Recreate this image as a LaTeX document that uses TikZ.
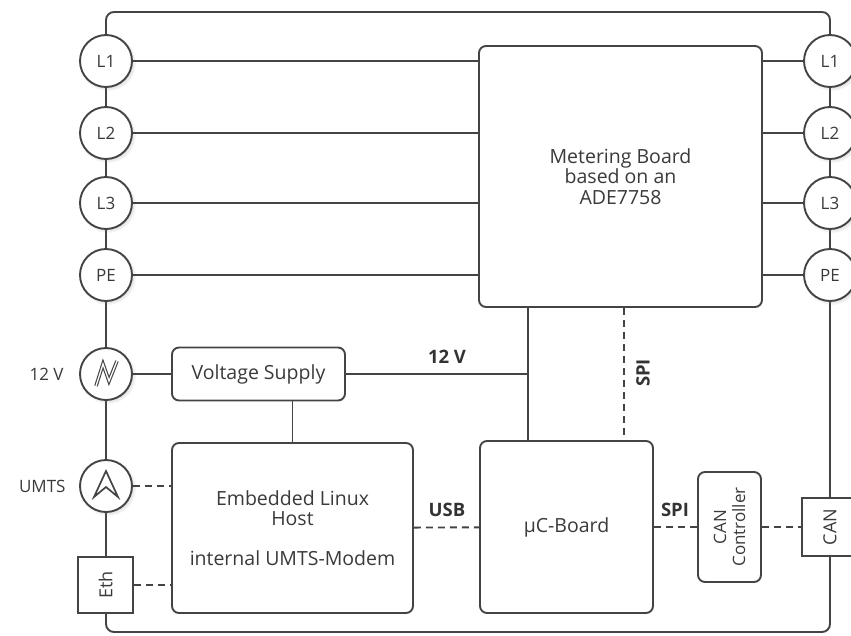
\documentclass[tikz,border=0pt]{standalone}
\usepackage{fontspec}
\setmainfont{Open Sans}
\usetikzlibrary{positioning,shadows}
\definecolor{ln}{HTML}{444444}
\definecolor{tx}{HTML}{3A3A3A}
\tikzset{
  wire/.style={draw=ln,line width=1.9pt},
  dwire/.style={wire,dash pattern=on 7pt off 5pt},
  port/.style={circle,draw=ln,line width=1.9pt,fill=white,minimum size=52pt,inner sep=0pt,
    text=tx,font=\fontsize{17}{19}\selectfont,
    circular drop shadow={opacity=0.22,shadow xshift=1.5pt,shadow yshift=-1.5pt}},
  blk/.style={draw=ln,line width=1.9pt,rounded corners=7pt,fill=white,align=center,
    text=tx,font=\fontsize{19.5}{20.5}\selectfont},
  sqbox/.style={draw=ln,line width=1.9pt,fill=white,align=center,text=tx,
    font=\fontsize{18}{20}\selectfont},
  tag/.style={text=tx,font=\fontsize{17}{19}\selectfont},
  btag/.style={text=black!80,font=\fontsize{18.5}{20}\selectfont\bfseries},
}
\begin{document}
\begin{tikzpicture}[x=1pt,y=-1pt]
\useasboundingbox (0,0) rectangle (851,635);
\draw[wire,rounded corners=8pt] (106,12) rectangle (830,632);
\node(ML)[blk,minimum width=283,minimum height=261]at(620.5,176.5){Metering Board\\based on an\\ ADE7758};
\node(L1)[port]at(106,61){L1};
\node(L2)[port]at(106,133){L2};
\node(L3)[port]at(106,203){L3};
\node(LPE)[port]at(106,275){PE};
\node(R1)[port]at(830,61){L1};
\node(R2)[port]at(830,133){L2};
\node(R3)[port]at(830,203){L3};
\node(RPE)[port]at(830,275){PE};
\foreach \n in {L1,L2,L3,LPE}{\draw[wire](\n)--(\n-|ML.west);}
\foreach \n in {R1,R2,R3,RPE}{\draw[wire](\n)--(\n-|ML.east);}
\node(V12)[port]at(106,374){};
\draw[ln,line width=3.6pt,line join=miter]([shift={(-10,12)}]V12.center)--([shift={(-3,-10)}]V12.center)--([shift={(3,7)}]V12.center)--([shift={(11,-13)}]V12.center);
\draw[white,line width=1.3pt,line join=miter]([shift={(-10,12)}]V12.center)--([shift={(-3,-10)}]V12.center)--([shift={(3,7)}]V12.center)--([shift={(11,-13)}]V12.center);
\node[tag,left=12pt of V12]{12 V};
\node(UM)[port]at(106,486){};
\draw[ln,line width=1.7pt,line join=miter]([shift={(0,-15)}]UM.center)--([shift={(12,11)}]UM.center)--([shift={(0,1)}]UM.center)--([shift={(-12,11)}]UM.center)--cycle;
\node[tag,left=10pt of UM]{UMTS};
\node(ETH)[sqbox,rotate=90,minimum width=56,minimum height=55]at(105.5,585){Eth};
\node(VS)[blk,minimum width=173,minimum height=53]at(258.5,374){Voltage Supply};
\node(EL)[blk,minimum width=241,minimum height=170]at(292.5,528){Embedded Linux\\Host\\[19.5pt]internal UMTS-Modem};
\node(UC)[blk,minimum width=173,minimum height=172]at(566.5,527){µC-Board};
\node(CC)[blk,rotate=90,minimum width=110,minimum height=63,font=\fontsize{17}{19}\selectfont]at(729.5,527){CAN\\Controller};
\node(CAN)[sqbox,rotate=90,minimum width=58,minimum height=56]at(830,527){CAN};
\coordinate(J12)at(528,374);
\coordinate(JSPI)at(624,374);
\draw[wire](V12)--(VS);
\draw[wire](VS)--(J12);
\draw[wire](J12|-ML.south)--(J12|-UC.north);
\draw[dwire](JSPI|-ML.south)--(JSPI|-UC.north);
\draw[wire](EL.north|-VS.south)--(EL.north);
\draw[dwire](UM)--(UM-|EL.west);
\draw[dwire](ETH)--(ETH-|EL.west);
\draw[dwire](EL)--(UC);
\draw[dwire](UC)--(CC);
\draw[dwire](CC)--(CAN);
\node[btag]at(447,357){12 V};
\node[btag,rotate=90]at(643,373){SPI};
\node[btag]at(447,510){USB};
\node[btag]at(675,510){SPI};
\end{tikzpicture}
\end{document}
